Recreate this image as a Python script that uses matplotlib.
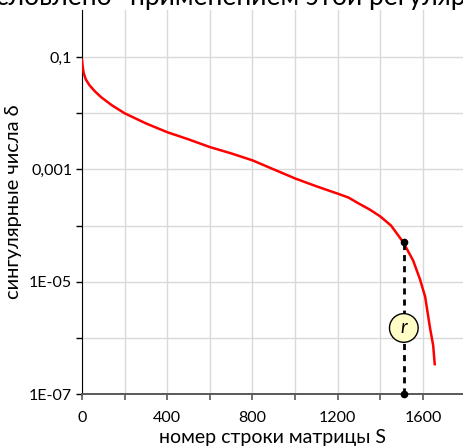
import matplotlib
matplotlib.use('Agg')
import matplotlib.pyplot as plt
from matplotlib.ticker import FixedLocator, FixedFormatter

plt.rcParams['font.family'] = ['Lato', 'DejaVu Sans']

# singular values
rows = [0, 3, 8, 18, 35, 60, 90, 140, 200, 300, 400, 500, 600, 700, 800,
        900, 1000, 1100, 1200, 1250, 1300, 1350, 1400, 1450, 1508, 1554,
        1586, 1610, 1633, 1648, 1655]
sigma = [0.09, 0.069, 0.052, 0.040, 0.0316, 0.0247, 0.0193, 0.0139, 0.0100,
         0.0066, 0.0046, 0.00343, 0.0025, 0.00193, 0.00145, 0.001, 0.00069,
         0.0005, 0.00037, 0.000316, 0.000245, 0.000193, 0.000145, 0.0001,
         5.0e-5, 2.37e-5, 1.1e-5, 5.4e-6, 1.5e-6, 7.2e-7, 3.4e-7]

rank_r = 1510
sigma_r = 5.0e-5
label_y = 1.5e-6

ytick_vals = [1e-7, 1e-6, 1e-5, 1e-4, 1e-3, 1e-2, 1e-1]
ytick_labels = ['1E-07', '', '1E-05', '', '0,001', '', '0,1']
xtick_vals = [0, 200, 400, 600, 800, 1000, 1200, 1400, 1600]
xtick_labels = ['0', '', '400', '', '800', '', '1200', '', '1600']

fig = plt.figure(figsize=(4.64, 4.48), dpi=100)
ax = fig.add_axes([82/464, 54/448, 382/464, 384/448])

ax.set_yscale('log')
ax.set_xlim(0, 382*400/85.25)
ax.set_ylim(1e-7, 10**(-1 + 47/56))

ax.yaxis.set_major_locator(FixedLocator(ytick_vals))
ax.yaxis.set_major_formatter(FixedFormatter(ytick_labels))
ax.yaxis.set_minor_locator(FixedLocator([]))
ax.xaxis.set_major_locator(FixedLocator(xtick_vals))
ax.xaxis.set_major_formatter(FixedFormatter(xtick_labels))
ax.tick_params(axis='x', length=4, width=1.2, color='#595959', labelsize=11.5,
               pad=8, labelcolor='black')
ax.tick_params(axis='y', length=4, width=1, color='black', labelsize=11.5, pad=3)

ax.grid(True, which='major', color='#d9d9d9', linewidth=1)
ax.set_axisbelow(True)

for s in ['top', 'right']:
    ax.spines[s].set_visible(False)
ax.spines['left'].set_color('black')
ax.spines['bottom'].set_color('#595959')
ax.spines['bottom'].set_linewidth(1.4)

ax.plot(rows, sigma, color='red', linewidth=1.8, zorder=3)

ax.plot([rank_r, rank_r], [1e-7, sigma_r], color='black', linestyle=(0, (2.2, 1.8)),
        linewidth=2, zorder=4, clip_on=False)
ax.plot([rank_r, rank_r], [1e-7, sigma_r], 'o', color='black', markersize=4.5,
        zorder=5, clip_on=False)
ax.text(rank_r, label_y, 'r', ha='center', va='center', fontsize=14,
        style='italic', zorder=6,
        bbox=dict(boxstyle='circle,pad=0.3', facecolor='#ffffc6',
                  edgecolor='black', linewidth=1))

ax.set_xlabel('номер строки матрицы S', fontsize=14)
ax.set_ylabel('сингулярные числа δ', fontsize=14.5)
ax.xaxis.set_label_coords(0.5, -0.091)
ax.yaxis.set_label_coords(-0.157, 0.5)

# fragment of the page text above the chart
fig.text(113/464, 1 - 5/448, 'обусловлено', ha='right', va='baseline', fontsize=19)
fig.text(130/464, 1 - 5/448, 'применением этой регуляризации', ha='left',
         va='baseline', fontsize=19)

fig.savefig('out.png', dpi=100)
